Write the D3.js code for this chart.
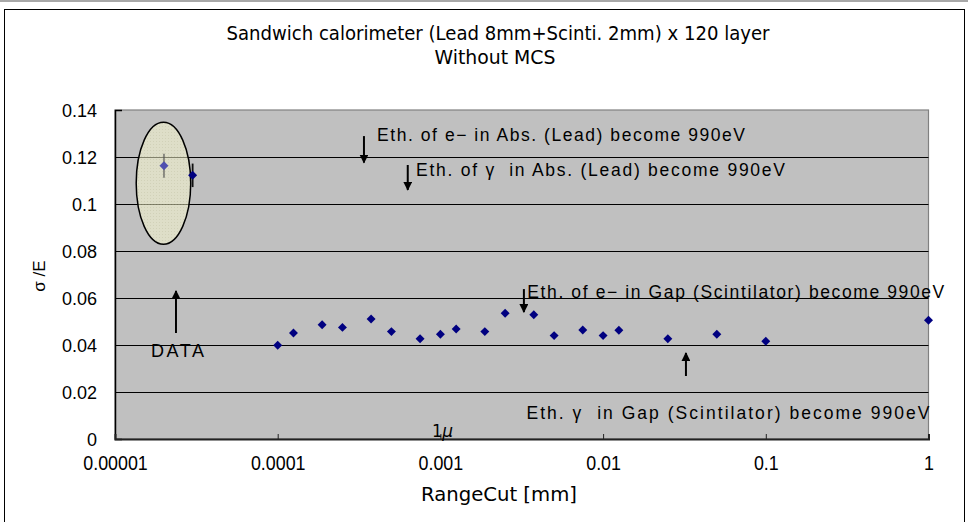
<!DOCTYPE html>
<html>
<head>
<meta charset="utf-8">
<script src="https://cdn.jsdelivr.net/npm/d3@7/dist/d3.min.js"></script>
<style>
  html, body { margin: 0; padding: 0; background: #fff; }
  svg { display: block; }
  text { white-space: pre; }
</style>
</head>
<body>
<svg id="chart" width="968" height="522"></svg>
<script>
// Simulation results: energy resolution vs. production range cut
const rangeCut = [0.0001, 0.000125, 0.0001875, 0.00025, 0.000375, 0.0005, 0.00075,
                  0.001, 0.00125, 0.001875, 0.0025, 0.00375, 0.005, 0.0075,
                  0.01, 0.0125, 0.025, 0.05, 0.1, 1];
const sigmaE = [0.0399, 0.0451, 0.0486, 0.0475, 0.0511, 0.0457, 0.0427,
                0.0446, 0.0468, 0.0457, 0.0535, 0.0529, 0.0440, 0.0464,
                0.0440, 0.0463, 0.0427, 0.0446, 0.0416, 0.0505];

// Measured data with error bars
const dataCut = [0.00002, 0.00003];
const dataSigma = [0.1163, 0.1122];
const dataErr = [0.0051, 0.0050];

// Axis ticks
const xTicks = [0.00001, 0.0001, 0.001, 0.01, 0.1, 1];
const xTickLabels = ["0.00001", "0.0001", "0.001", "0.01", "0.1", "1"];
const yTicks = [0, 0.02, 0.04, 0.06, 0.08, 0.1, 0.12, 0.14];
const yTickLabels = ["0", "0.02", "0.04", "0.06", "0.08", "0.1", "0.12", "0.14"];

// Annotation arrows: x position, start value, end value (arrow head at end)
const arrowX = [0.000339, 0.00063, 0.00326, 0.0323, 0.0000237];
const arrowFrom = [0.1289, 0.1166, 0.0638, 0.0268, 0.0451];
const arrowTo = [0.1176, 0.1060, 0.0540, 0.0366, 0.0630];

// Annotation texts: start position (range cut, sigma at baseline)
const noteText = ["Eth. of e\u2212 in Abs. (Lead) become 990eV",
                  "Eth. of \u03B3  in Abs. (Lead) become 990eV",
                  "Eth. of e\u2212 in Gap (Scintilator) become 990eV",
                  "Eth. \u03B3  in Gap (Scintilator) become 990eV"];
const noteX = [0.000408, 0.000708, 0.00342, 0.00338];
const noteY = [0.1266, 0.1121, 0.0602, 0.0085];

// Region enclosing the measured data (range cut extent, sigma extent)
const dataRegionX = [0.0000135, 0.0000292];
const dataRegionY = [0.0829, 0.1348];

const svg = d3.select("#chart");
const W = 968, H = 522;
const plot = { left: 115, right: 928.5, top: 110, bottom: 439 };

const x = d3.scaleLog().domain([0.00001, 1]).range([plot.left, plot.right]);
const y = d3.scaleLinear().domain([0, 0.14]).range([plot.bottom, plot.top]);

const sans = "'Liberation Sans', Arial, sans-serif";
const narrow = "'Liberation Sans Narrow', 'Arial Narrow', 'DejaVu Sans Condensed', sans-serif";

// page background and frame
svg.append("rect").attr("width", W).attr("height", H).attr("fill", "#fff");
svg.append("rect").attr("x", 0).attr("y", 0).attr("width", W).attr("height", 2).attr("fill", "#a8a8a8");
svg.append("rect").attr("x", 4.5).attr("y", 9.5).attr("width", 960).attr("height", 520)
  .attr("fill", "none").attr("stroke", "#000").attr("stroke-width", 1);

// plot area
svg.append("rect")
  .attr("x", plot.left).attr("y", plot.top)
  .attr("width", plot.right - plot.left).attr("height", plot.bottom - plot.top)
  .attr("fill", "#c0c0c0").attr("stroke", "#808080").attr("stroke-width", 1.2);

// horizontal gridlines
svg.append("g").selectAll("line")
  .data(yTicks.filter(v => v > 0 && v < 0.14))
  .join("line")
  .attr("x1", plot.left).attr("x2", plot.right)
  .attr("y1", d => Math.round(y(d)) + 0.5).attr("y2", d => Math.round(y(d)) + 0.5)
  .attr("stroke", "#000").attr("stroke-width", 1);

// y axis
const yAxis = d3.axisLeft(y).tickValues(yTicks).tickSize(-7)
  .tickFormat((d, i) => yTickLabels[i]).tickPadding(18);
const gy = svg.append("g").attr("transform", `translate(${plot.left},0)`).call(yAxis);
gy.select(".domain").attr("stroke", "#000").attr("stroke-width", 1.5);
gy.selectAll(".tick line").attr("stroke", "#000");
gy.selectAll(".tick text").attr("font-family", sans).attr("font-size", 18).attr("fill", "#000")
  .attr("dy", "0.36em");

// x axis: tall, condensed labels
const xAxis = d3.axisBottom(x).tickValues(xTicks).tickSize(-5)
  .tickFormat((d, i) => xTickLabels[i]).tickPadding(16);
const gx = svg.append("g").attr("transform", `translate(0,${plot.bottom})`).call(xAxis);
gx.select(".domain").attr("stroke", "#222").attr("stroke-width", 2);
gx.selectAll(".tick line").attr("stroke", "#222");
gx.selectAll(".tick text").attr("font-family", sans).attr("font-size", 20.5).attr("fill", "#000")
  .attr("transform", "scale(0.87,1)");

// titles
svg.append("text").attr("x", 498).attr("y", 40).attr("text-anchor", "middle")
  .attr("font-family", narrow).attr("font-size", 19)
  .attr("textLength", 543).attr("lengthAdjust", "spacingAndGlyphs")
  .text("Sandwich calorimeter (Lead 8mm+Scinti. 2mm) x 120 layer");
svg.append("text").attr("x", 495).attr("y", 64).attr("text-anchor", "middle")
  .attr("font-family", narrow).attr("font-size", 19)
  .attr("textLength", 121).attr("lengthAdjust", "spacingAndGlyphs")
  .text("Without MCS");
svg.append("text").attr("x", 499).attr("y", 501).attr("text-anchor", "middle")
  .attr("font-family", narrow).attr("font-size", 20)
  .attr("textLength", 156).attr("lengthAdjust", "spacingAndGlyphs")
  .text("RangeCut [mm]");
svg.append("text")
  .attr("transform", "translate(45,276) rotate(-90)")
  .attr("text-anchor", "middle")
  .attr("font-family", sans).attr("font-size", 17)
  .text("\u03C3 /E");

// highlighted region around the measured data
const defs = svg.append("defs");
const pat = defs.append("pattern").attr("id", "dots").attr("width", 3).attr("height", 3)
  .attr("patternUnits", "userSpaceOnUse");
pat.append("rect").attr("width", 3).attr("height", 3).attr("fill", "#fafad0");
pat.append("rect").attr("width", 1).attr("height", 1).attr("fill", "#e0e0b0");
svg.append("ellipse")
  .attr("cx", (x(dataRegionX[0]) + x(dataRegionX[1])) / 2)
  .attr("cy", (y(dataRegionY[0]) + y(dataRegionY[1])) / 2)
  .attr("rx", (x(dataRegionX[1]) - x(dataRegionX[0])) / 2)
  .attr("ry", (y(dataRegionY[0]) - y(dataRegionY[1])) / 2)
  .attr("fill", "url(#dots)").attr("fill-opacity", 0.52)
  .attr("stroke", "#000").attr("stroke-width", 1.5);

// simulation points
const diamond = d3.symbol().type(d3.symbolSquare).size(40);
svg.append("g").selectAll("path")
  .data(rangeCut.map((c, i) => [c, sigmaE[i]]))
  .join("path")
  .attr("d", diamond)
  .attr("transform", d => `translate(${x(d[0])},${y(d[1])}) rotate(45)`)
  .attr("fill", "#000080");

// measured points with error bars
const meas = dataCut.map((c, i) => ({ c, s: dataSigma[i], e: dataErr[i], i }));
const gm = svg.append("g");
gm.selectAll("line.err").data(meas).join("line").attr("class", "err")
  .attr("x1", d => x(d.c)).attr("x2", d => x(d.c))
  .attr("y1", d => y(d.s + d.e)).attr("y2", d => y(d.s - d.e))
  .attr("stroke", d => d.i === 0 ? "#555" : "#111").attr("stroke-width", d => d.i === 0 ? 1.2 : 1.8);
gm.selectAll("path").data(meas).join("path")
  .attr("d", diamond)
  .attr("transform", d => `translate(${x(d.c)},${y(d.s)}) rotate(45)`)
  .attr("fill", d => d.i === 0 ? "#5050b0" : "#000080");

// arrows
const head = defs.append("marker").attr("id", "head")
  .attr("viewBox", "0 0 10 10").attr("refX", 9).attr("refY", 5)
  .attr("markerWidth", 4.5).attr("markerHeight", 4.5).attr("orient", "auto");
head.append("path").attr("d", "M0,0 L10,5 L0,10 Z").attr("fill", "#000");
svg.append("g").selectAll("line")
  .data(arrowX.map((ax, i) => ({ ax, f: arrowFrom[i], t: arrowTo[i] })))
  .join("line")
  .attr("x1", d => x(d.ax)).attr("x2", d => x(d.ax))
  .attr("y1", d => y(d.f)).attr("y2", d => y(d.t))
  .attr("stroke", "#000").attr("stroke-width", 2)
  .attr("marker-end", "url(#head)");

// annotation texts
const noteLen = [368, 369, 417, 403];
svg.append("g").selectAll("text")
  .data(noteText.map((t, i) => ({ t, nx: noteX[i], ny: noteY[i], len: noteLen[i] })))
  .join("text")
  .attr("x", d => x(d.nx)).attr("y", d => y(d.ny))
  .attr("font-family", sans).attr("font-size", 17.5).attr("fill", "#000")
  .attr("textLength", d => d.len).attr("lengthAdjust", "spacing")
  .text(d => d.t);

svg.append("text").attr("x", x(0.0000242)).attr("y", y(0.0348))
  .attr("text-anchor", "middle")
  .attr("font-family", sans).attr("font-size", 18)
  .attr("textLength", 53).attr("lengthAdjust", "spacing")
  .text("DATA");

// 1 micron marker label
const mu = svg.append("text").attr("x", x(0.00103)).attr("y", y(0.0009))
  .attr("text-anchor", "middle").attr("font-family", narrow).attr("font-size", 18);
mu.append("tspan").text("1");
mu.append("tspan").attr("font-style", "italic").attr("font-family", "'DejaVu Sans', sans-serif")
  .attr("font-size", 17).text("\u03BC");
</script>
</body>
</html>
